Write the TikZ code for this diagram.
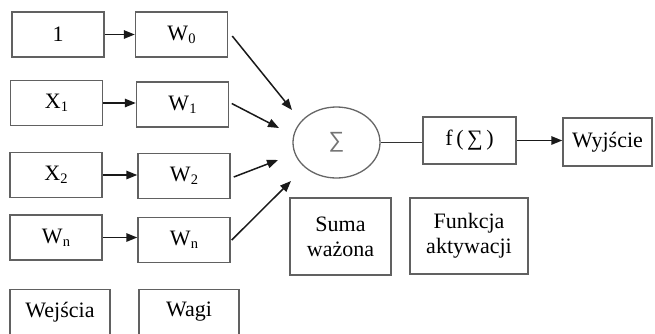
\documentclass[tikz,border=0pt]{standalone}
\usepackage{fontspec}
\setmainfont{Liberation Serif}
\newfontfamily\symfont{Liberation Sans}
\usetikzlibrary{arrows.meta,calc,shapes.geometric}

% lowered small index, e.g. W with index 0
\newcommand{\idx}[1]{\raisebox{-0.3ex}{\fontsize{14.5}{14.5}\selectfont #1}}

\begin{document}
\begin{tikzpicture}[x=1pt,y=-1pt,
  box/.style={draw=black!62,line width=1.5pt,rectangle,inner sep=0pt,
    minimum width=92pt,minimum height=45pt,font=\fontsize{22}{25}\selectfont,align=center},
  arr/.style={-{Triangle[length=11pt,width=8.5pt]},line width=1.5pt,black!90},
  plain/.style={line width=1.3pt,black!80}]
\useasboundingbox (0,0) rectangle (655,333);

% inputs and weights
\node[box] (in0) at (58,34.5) {1};
\node[box] (w0)  at (181.5,34.5) {W\idx{0}};
\node[box] (in1) at (56.5,103) {X\idx{1}};
\node[box] (w1)  at (182.5,104.5) {W\idx{1}};
\node[box] (in2) at (56,175) {X\idx{2}};
\node[box] (w2)  at (184,176) {W\idx{2}};
\node[box] (inn) at (56,237.5) {W\idx{n}};
\node[box] (wn)  at (184,240) {W\idx{n}};

% legend boxes for the two columns
\node[box,minimum width=100pt] (lin) at (60,312) {Wejścia};
\node[box,minimum width=100pt] (lw)  at (189,312) {Wagi};

% summation, activation and output
\node[draw=black!60,line width=1.3pt,ellipse,minimum width=87pt,minimum height=71pt,inner sep=0pt,
  font=\symfont\fontsize{22}{22}\selectfont,text=black!55] (sum) at (336.5,142.5) {∑};
\node[box,minimum width=93pt,minimum height=47pt] (act) at (469.5,140.5)
  {f\kern3.5pt(\kern3.5pt∑\kern3.5pt)};
\node[box,minimum width=89pt,minimum height=48pt] (out) at (607.5,142) {Wyjście};

\node[box,minimum width=101pt,minimum height=77pt] (lsum) at (340.5,236.5) {Suma\\ważona};
\node[box,minimum width=118pt,minimum height=76pt] (lact) at (469,236) {Funkcja\\aktywacji};

% arrow tips near the summation node
\coordinate (t0) at (292,110);
\coordinate (t1) at (279,128);
\coordinate (t2) at (278,160);
\coordinate (t3) at (291,181);

% connectors
\draw[arr] (in0.east) -- (in0.east -| w0.west);
\draw[arr] (in1.east) -- (in1.east -| w1.west);
\draw[arr] (in2.east) -- (in2.east -| w2.west);
\draw[arr] (inn.east) -- (inn.east -| wn.west);
\draw[arr] ([shift={(4pt,-1.5pt)}]w0.east) -- (t0);
\draw[arr] ([shift={(2.5pt,1pt)}]w1.east) -- (t1);
\draw[arr] ([shift={(3pt,-1pt)}]w2.east) -- (t2);
\draw[arr] ([shift={(1pt,0pt)}]wn.east) -- (t3);
\draw[plain] (sum.east) -- (sum.east -| act.west);
\draw[arr] (act.east) -- (act.east -| out.west);
\end{tikzpicture}
\end{document}
